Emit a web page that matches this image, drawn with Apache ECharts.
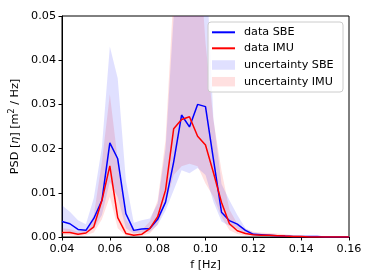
<!DOCTYPE html>
<html><head><meta charset="utf-8">
<script src="https://cdn.jsdelivr.net/npm/echarts@6/dist/echarts.min.js"></script>
<style>html,body{margin:0;padding:0;background:#fff}#c{width:374px;height:280px}</style>
</head><body><div id="c"></div>
<script>
var freqs = [0.0400,0.0433,0.0467,0.0500,0.0533,0.0567,0.0600,0.0633,0.0667,0.0700,0.0733,0.0767,0.0800,0.0833,0.0867,0.0900,0.0933,0.0967,0.1000,0.1033,0.1067,0.1100,0.1133,0.1167,0.1200,0.1233,0.1267,0.1300,0.1333,0.1367,0.1400,0.1433,0.1467,0.1500,0.1533,0.1567,0.1600];
var sbe = [0.0035,0.0030,0.0017,0.0015,0.0042,0.0083,0.0213,0.0177,0.0053,0.0015,0.0018,0.0019,0.0040,0.0079,0.0170,0.0276,0.0249,0.0300,0.0295,0.0176,0.0056,0.0037,0.0029,0.0015,0.0006,0.0005,0.0004,0.0003,0.0002,0.0001,0.0001,0.0001,0.0001,0.0000,0.0000,0.0000,0.0000];
var imu = [0.0010,0.0010,0.0006,0.0009,0.0023,0.0083,0.0161,0.0044,0.0008,0.0004,0.0006,0.0019,0.0046,0.0106,0.0245,0.0266,0.0272,0.0228,0.0208,0.0146,0.0078,0.0030,0.0014,0.0008,0.0005,0.0004,0.0004,0.0003,0.0002,0.0001,0.0001,0.0000,0.0000,0.0000,0.0000,0.0000,0.0000];
var sbeUpper = [0.0072,0.0057,0.0038,0.0029,0.0088,0.0204,0.0431,0.0359,0.0129,0.0032,0.0038,0.0042,0.0076,0.0200,0.0500,0.0700,0.0700,0.0700,0.0650,0.0270,0.0120,0.0083,0.0050,0.0020,0.0010,0.0008,0.0006,0.0004,0.0003,0.0002,0.0002,0.0001,0.0001,0.0001,0.0000,0.0000,0.0000];
var sbeLower = [0.0015,0.0012,0.0008,0.0008,0.0020,0.0050,0.0125,0.0090,0.0020,0.0008,0.0010,0.0012,0.0027,0.0060,0.0106,0.0151,0.0144,0.0156,0.0140,0.0080,0.0035,0.0025,0.0018,0.0008,0.0003,0.0002,0.0001,0.0001,0.0000,0.0000,0.0000,0.0000,0.0000,0.0000,0.0000,0.0000,0.0000];
var imuUpper = [0.0020,0.0018,0.0012,0.0015,0.0050,0.0170,0.0323,0.0175,0.0040,0.0015,0.0015,0.0035,0.0083,0.0220,0.0560,0.0700,0.0700,0.0700,0.0440,0.0265,0.0150,0.0062,0.0030,0.0018,0.0012,0.0010,0.0009,0.0008,0.0006,0.0004,0.0003,0.0002,0.0001,0.0000,0.0000,0.0000,0.0000];
var imuLower = [0.0004,0.0004,0.0002,0.0004,0.0010,0.0040,0.0091,0.0020,0.0003,0.0001,0.0002,0.0008,0.0028,0.0075,0.0140,0.0160,0.0166,0.0160,0.0121,0.0091,0.0045,0.0015,0.0007,0.0003,0.0002,0.0002,0.0001,0.0001,0.0001,0.0000,0.0000,0.0000,0.0000,0.0000,0.0000,0.0000,0.0000];
var xTicks = [0.04,0.06,0.08,0.10,0.12,0.14,0.16];
var yTicks = [0.00,0.01,0.02,0.03,0.04,0.05];

function pairs(v){ return freqs.map(function(f,i){ return [f, v[i]]; }); }

var FONT = 'DejaVu Sans';
var blueBand = 'rgba(0,0,255,0.12)';
var redBand = 'rgba(255,0,0,0.12)';

function bandSeries(name, upper, lower, color, z){
  return {
    name:name, type:'custom', data:[[freqs[0], 0]], color:color, itemStyle:{color:color}, z:z,
    renderItem:function(params, api){
      var pts = [];
      for (var i=0;i<freqs.length;i++) pts.push(api.coord([freqs[i], upper[i]]));
      for (var j=freqs.length-1;j>=0;j--) pts.push(api.coord([freqs[j], lower[j]]));
      var cs = params.coordSys;
      return {type:'polygon', shape:{points:pts}, style:{fill:color, stroke:null},
        clipPath:{type:'rect', shape:{x:cs.x, y:cs.y, width:cs.width, height:cs.height}}};
    }
  };
}

function lg(name, top, h){
  return {
    data:[{name:name, icon:'rect'}], left:212, top:top, orient:'vertical', z:100,
    itemWidth:23, itemHeight:h, selectedMode:false, padding:0,
    textStyle:{fontFamily:FONT, fontSize:11.2, color:'#000', lineHeight:14, padding:[0,0,0,4]}
  };
}

var chart = echarts.init(document.getElementById('c'), null, {renderer:'canvas'});
chart.setOption({
  animation:false,
  backgroundColor:'#fff',
  grid:{left:62, right:25, top:16, bottom:43, show:true, borderColor:'#000', borderWidth:1, backgroundColor:'transparent'},
  graphic:[{type:'rect', shape:{x:208, y:22, width:135, height:70, r:3},
    style:{fill:'rgba(255,255,255,0.8)', stroke:'#cccccc', lineWidth:1}, z:90}],
  legend:[
    lg('data SBE', 25.3, 2),
    lg('data IMU', 41.3, 2),
    lg('uncertainty SBE', 58, 9.5),
    lg('uncertainty IMU', 74.7, 9.5)
  ],
  xAxis:{type:'value', min:0.04, max:0.16, interval:0.02,
    name:'f [Hz]', nameLocation:'middle', nameGap:18,
    nameTextStyle:{fontFamily:FONT, fontSize:11.2, color:'#000'},
    axisLine:{show:true, lineStyle:{color:'#000', width:1}},
    axisTick:{show:true, length:3.5, lineStyle:{color:'#000'}},
    axisLabel:{fontFamily:FONT, fontSize:11.2, color:'#000', margin:6.5,
      formatter:function(v){ return v.toFixed(2); }},
    splitLine:{show:false}},
  yAxis:{type:'value', min:0, max:0.05, interval:0.01,
    name:'PSD [{i|η}] [m{s|2} / Hz]', nameLocation:'middle', nameGap:37, nameRotate:90,
    nameTextStyle:{fontFamily:FONT, fontSize:11.2, color:'#000',
      rich:{i:{fontFamily:FONT, fontStyle:'italic', fontSize:11.2, color:'#000'},
            s:{fontFamily:FONT, fontSize:8, color:'#000', verticalAlign:'top', padding:[0,0,5,0]}}},
    axisLine:{show:true, lineStyle:{color:'#000', width:1}},
    axisTick:{show:true, length:3.5, lineStyle:{color:'#000'}},
    axisLabel:{fontFamily:FONT, fontSize:11.2, color:'#000', margin:6,
      formatter:function(v){ return v.toFixed(2); }},
    splitLine:{show:false}},
  series:[
    bandSeries('uncertainty IMU', imuUpper, imuLower, redBand, 1),
    bandSeries('uncertainty SBE', sbeUpper, sbeLower, blueBand, 2),
    {name:'data SBE', type:'line', data:pairs(sbe), symbol:'none', color:'#0000ff',
     itemStyle:{color:'#0000ff'}, lineStyle:{color:'#0000ff', width:1.5}, z:3},
    {name:'data IMU', type:'line', data:pairs(imu), symbol:'none', color:'#ff0000',
     itemStyle:{color:'#ff0000'}, lineStyle:{color:'#ff0000', width:1.5}, z:3}
  ]
});
</script></body></html>
